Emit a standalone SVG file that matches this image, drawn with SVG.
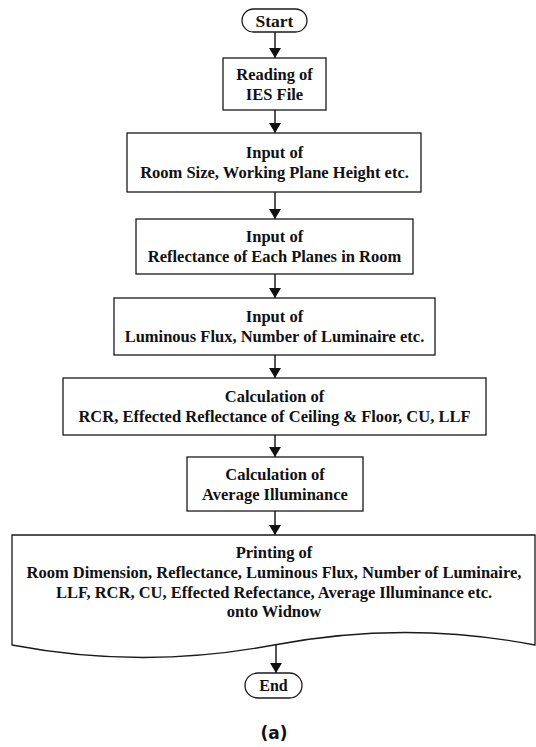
<svg xmlns="http://www.w3.org/2000/svg" width="536" height="747" viewBox="0 0 536 747">
<defs>
<style>
.box{fill:#fff;stroke:#1a1a1a;stroke-width:1.3}
.t{font-family:"Liberation Serif","Times New Roman",serif;font-weight:bold;font-size:16.5px;fill:#111;text-anchor:middle}
.c{stroke:#1a1a1a;stroke-width:1.5;fill:none}
</style>
<marker id="ah" markerUnits="userSpaceOnUse" markerWidth="10" markerHeight="12" viewBox="0 0 10 12" refX="10" refY="6" orient="auto">
<path d="M0,0 L10,6 L0,12 z" fill="#111"/>
</marker>
</defs>
<rect width="536" height="747" fill="#fff"/>
<g id="connectors">
<line class="c" x1="275" y1="32" x2="275" y2="58" marker-end="url(#ah)"/>
<line class="c" x1="275" y1="110" x2="275" y2="133" marker-end="url(#ah)"/>
<line class="c" x1="275" y1="192" x2="275" y2="219" marker-end="url(#ah)"/>
<line class="c" x1="275" y1="274" x2="275" y2="298" marker-end="url(#ah)"/>
<line class="c" x1="275" y1="355" x2="275" y2="378" marker-end="url(#ah)"/>
<line class="c" x1="275" y1="435" x2="275" y2="457" marker-end="url(#ah)"/>
<line class="c" x1="275" y1="511" x2="275" y2="535" marker-end="url(#ah)"/>
<line class="c" x1="276" y1="645" x2="276" y2="673" marker-end="url(#ah)"/>
</g>
<g id="start">
<rect class="box" x="242" y="9" width="65" height="23" rx="11.5"/>
<text class="t" x="274.5" y="26.5" style="font-size:17.5px">Start</text>
</g>
<g id="reading">
<rect class="box" x="223" y="58" width="103" height="52"/>
<text class="t" x="274.5" y="79.5">Reading of</text>
<text class="t" x="274.5" y="99.5">IES File</text>
</g>
<g id="roomsize">
<rect class="box" x="127" y="133" width="294" height="59"/>
<text class="t" x="274.5" y="158">Input of</text>
<text class="t" x="274.5" y="178">Room Size, Working Plane Height etc.</text>
</g>
<g id="reflectance">
<rect class="box" x="136" y="219" width="277" height="55"/>
<text class="t" x="274.5" y="242">Input of</text>
<text class="t" x="274.5" y="262">Reflectance of Each Planes in Room</text>
</g>
<g id="luminous">
<rect class="box" x="114" y="298" width="321" height="57"/>
<text class="t" x="274.5" y="322">Input of</text>
<text class="t" x="274.5" y="342">Luminous Flux, Number of Luminaire etc.</text>
</g>
<g id="rcr">
<rect class="box" x="63" y="378" width="423" height="57"/>
<text class="t" x="274.5" y="402">Calculation of</text>
<text class="t" x="274.5" y="422">RCR, Effected Reflectance of Ceiling &amp; Floor, CU, LLF</text>
</g>
<g id="average">
<rect class="box" x="187" y="457" width="176" height="54"/>
<text class="t" x="275" y="479.5">Calculation of</text>
<text class="t" x="275" y="499.5">Average Illuminance</text>
</g>
<g id="printing">
<path class="box" d="M12,535 L535,535 L535,645 Q405,620 274,645 T12,645 Z"/>
<text class="t" x="274" y="558">Printing of</text>
<text class="t" x="274" y="578">Room Dimension, Reflectance, Luminous Flux, Number of Luminaire,</text>
<text class="t" x="274" y="597.5">LLF, RCR, CU, Effected Refectance, Average Illuminance etc.</text>
<text class="t" x="274" y="617">onto Widnow</text>
</g>
<g id="end">
<rect class="box" x="245" y="673" width="57" height="25" rx="12.5"/>
<text class="t" x="273.5" y="691" style="font-size:16px">End</text>
</g>
<text x="274" y="739" style="font-family:'DejaVu Sans','Liberation Sans',sans-serif;font-weight:bold;font-size:17px;fill:#111;text-anchor:middle">(a)</text>
</svg>
